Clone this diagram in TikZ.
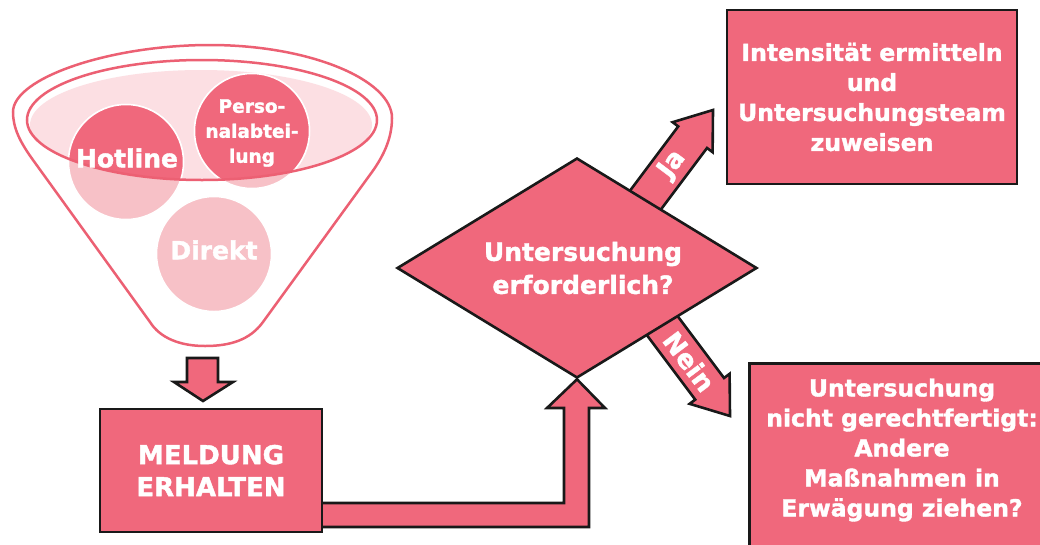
\documentclass[tikz,border=0pt]{standalone}
\usepackage{fontspec}
\setmainfont{DejaVu Sans}[BoldFeatures={FakeBold=1.6}]
\usetikzlibrary{shapes.geometric,calc}
\definecolor{rosa}{RGB}{240,104,124}
\definecolor{rosalight}{RGB}{247,193,199}
\definecolor{rosapale}{RGB}{252,223,227}
\definecolor{rand}{RGB}{236,96,115}
\tikzset{%
  box/.style = { draw=black!90, line width=2.6pt, fill=rosa, inner sep=0pt },
  boxtext/.style = { text=white, font=\bfseries\fontsize{23.5}{30}\selectfont, align=center },
  fatarrow/.style = { draw=black!90, line width=2.6pt, fill=rosa, line join=miter },
  bubble/.style = { circle, draw=white, line width=1.5pt, inner sep=0pt, minimum size=115pt },
  bubbletext/.style = { text=white, font=\bfseries\fontsize{25}{30}\selectfont, align=center },
  funnel/.style = { draw=rand, line width=2.5pt },
  armtext/.style = { text=white, font=\bfseries\fontsize{26}{26}\selectfont, transform shape, inner sep=0pt }
}
\begin{document}
\begin{tikzpicture}[x=1pt, y=-1pt]

  \useasboundingbox (0,0) rectangle (1040,544);
  \clip (0,0) rectangle (1040,544);

  % Funnel
  \draw[funnel, fill=white] (13,112) .. controls (13,78) and (110,45) .. (210,45)
    .. controls (310,45) and (392,80) .. (392,118)
    .. controls (392,140) and (382,158) .. (372,172) -- (263,322)
    .. controls (250,340) and (230,346) .. (205,346)
    .. controls (180,346) and (160,338) .. (150,322) -- (33,160)
    .. controls (20,142) and (13,128) .. (13,112) -- cycle;
  \fill[rosapale] (201,125) ellipse (171 and 55);

  % Sources
  \node[bubble, fill=rosalight] (hotline) at (126,162) {};
  \node[bubble, fill=rosalight] (personal) at (252,131) {};
  \node[bubble, fill=rosalight] (direkt) at (214,254) {};
  \begin{scope}
    \clip (202,120) ellipse (175 and 60);
    \foreach \src in {hotline,personal} {
      \filldraw[fill=rosa, draw=white, line width=1.5pt] (\src.center) circle (57.5);
    }
  \end{scope}
  \draw[funnel] (202,120) ellipse (175 and 60);

  \node[bubbletext] (hotline text) at (127,158) {Hotline};
  \node[bubbletext, font=\bfseries\fontsize{18.5}{25}\selectfont] (personal text) at (252,133) {Perso-\\nalabtei-\\lung};
  \node[bubbletext] (direkt text) at (214,250) {Direkt};

  % Funnel output
  \draw[fatarrow] (187,358) -- (218,358) -- (218,382) -- (233,382) -- (203,401) -- (174,382) -- (187,382) -- cycle;

  % Ja / Nein arms
  \coordinate (ja tip) at (713,110);
  \coordinate (nein tip) at (730,416);
  \begin{scope}[shift={(ja tip)}, rotate=53.13]
    \draw[fatarrow] (0,0) -- (-34,25) -- (-34,18) -- (-136,18) -- (-136,-18) -- (-34,-18) -- (-34,-25) -- cycle;
    \node[armtext] (ja) at (-68,0) {Ja};
  \end{scope}
  \begin{scope}[shift={(nein tip)}, rotate=-53.13]
    \draw[fatarrow] (0,0) -- (-34,25) -- (-34,18) -- (-136,18) -- (-136,-18) -- (-34,-18) -- (-34,-25) -- cycle;
    \node[armtext] (nein) at (-68,0) {Nein};
  \end{scope}

  % Decision
  \node[diamond, aspect=1.64, draw=black!90, line width=2.6pt, fill=rosa, minimum width=360pt, minimum height=220pt,
        inner sep=0pt, text=white, font=\bfseries\fontsize{25}{33}\selectfont, align=center] (frage) at (577,268)
        {\hspace*{12pt}Untersuchung\\\hspace*{12pt}erforderlich?};

  % Report to decision
  \draw[fatarrow] (310,503) -- (564,503) -- (564,408) -- (547,408) -- (frage.south) -- (605,408) -- (589,408) -- (589,527) -- (310,527);
  \node[box, minimum width=222pt, minimum height=123pt, text=white, align=center,
        font=\bfseries\fontsize{26}{32}\selectfont] (meldung) at (211,470.5) {MELDUNG\\ERHALTEN};

  % Outcomes
  \node[box, minimum width=290pt, minimum height=174pt] (ja box) at (872,97) {};
  \node[boxtext] (ja box text) at (ja box) {Intensität ermitteln\\und\\Untersuchungsteam\\zuweisen};
  \node[box, anchor=north west, minimum width=310pt, minimum height=200pt] (nein box) at (748,362) {};
  \node[boxtext] (nein box text) at (902,450) {Untersuchung\\nicht gerechtfertigt:\\Andere\\Maßnahmen in\\Erwägung ziehen?};

\end{tikzpicture}
\end{document}
